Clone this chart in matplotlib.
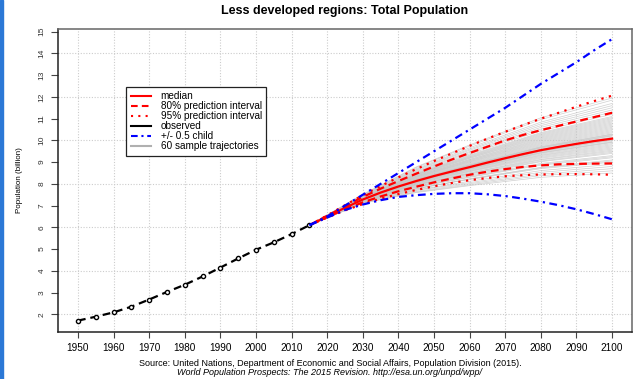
import matplotlib
matplotlib.use("Agg")
import matplotlib.pyplot as plt
from matplotlib.lines import Line2D
from matplotlib.patches import Rectangle

plt.rcParams['font.family'] = ['Liberation Sans', 'DejaVu Sans']

# observed population (billion)
obs_years = [1950, 1955, 1960, 1965, 1970, 1975, 1980, 1985, 1990, 1995, 2000, 2005, 2010, 2015]
obs_pop = [1.71, 1.89, 2.09, 2.35, 2.68, 3.03, 3.36, 3.74, 4.15, 4.57, 4.97, 5.31, 5.69, 6.10]

# projections
proj_years = [2015, 2020, 2025, 2030, 2035, 2040, 2045, 2050, 2055, 2060,
              2065, 2070, 2075, 2080, 2085, 2090, 2095, 2100]
median = [6.10, 6.50, 6.90, 7.28, 7.60, 7.88, 8.13, 8.36, 8.57, 8.77,
          8.98, 9.18, 9.37, 9.55, 9.70, 9.84, 9.97, 10.08]
upper80 = [6.10, 6.53, 6.97, 7.40, 7.78, 8.13, 8.47, 8.80, 9.12, 9.42,
           9.71, 10.00, 10.25, 10.47, 10.67, 10.87, 11.07, 11.27]
lower80 = [6.10, 6.47, 6.83, 7.15, 7.42, 7.66, 7.87, 8.07, 8.25, 8.42,
           8.56, 8.68, 8.78, 8.85, 8.90, 8.92, 8.93, 8.94]
upper95 = [6.10, 6.55, 7.02, 7.48, 7.90, 8.30, 8.68, 9.05, 9.40, 9.75,
           10.08, 10.40, 10.70, 11.00, 11.27, 11.55, 11.81, 12.06]
lower95 = [6.10, 6.45, 6.78, 7.07, 7.32, 7.53, 7.72, 7.89, 8.04, 8.17,
           8.27, 8.35, 8.40, 8.43, 8.45, 8.45, 8.44, 8.42]
high_child = [6.10, 6.50, 7.00, 7.50, 8.00, 8.50, 9.00, 9.50, 10.00, 10.50,
              11.00, 11.50, 12.05, 12.60, 13.10, 13.60, 14.15, 14.66]
low_child = [6.10, 6.45, 6.80, 7.05, 7.25, 7.40, 7.48, 7.54, 7.57, 7.57,
             7.52, 7.44, 7.32, 7.18, 7.02, 6.83, 6.61, 6.37]

# sample trajectories, values at these years
traj_years = [2015, 2030, 2045, 2060, 2080, 2100]
trajectories = [
    [6.10, 7.10, 7.60, 7.92, 8.30, 8.50], [6.10, 7.13, 7.65, 8.01, 8.45, 8.70],
    [6.10, 7.15, 7.70, 8.06, 8.53, 8.80], [6.10, 7.16, 7.72, 8.12, 8.61, 8.90],
    [6.10, 7.20, 7.80, 8.20, 8.70, 9.00], [6.10, 7.15, 7.76, 8.24, 8.76, 9.10],
    [6.10, 7.22, 7.84, 8.30, 8.86, 9.20], [6.10, 7.18, 7.85, 8.32, 8.90, 9.25],
    [6.10, 7.20, 7.88, 8.36, 8.94, 9.30], [6.10, 7.23, 7.90, 8.40, 9.02, 9.40],
    [6.10, 7.25, 7.95, 8.45, 9.05, 9.45], [6.10, 7.21, 7.93, 8.46, 9.10, 9.50],
    [6.10, 7.26, 7.98, 8.50, 9.13, 9.55], [6.10, 7.24, 7.96, 8.50, 9.18, 9.60],
    [6.10, 7.27, 8.00, 8.55, 9.22, 9.65], [6.10, 7.25, 8.02, 8.58, 9.26, 9.70],
    [6.10, 7.29, 8.04, 8.60, 9.30, 9.75], [6.10, 7.26, 8.05, 8.63, 9.33, 9.80],
    [6.10, 7.30, 8.08, 8.66, 9.37, 9.85], [6.10, 7.27, 8.07, 8.68, 9.41, 9.90],
    [6.10, 7.31, 8.10, 8.70, 9.43, 9.92], [6.10, 7.28, 8.11, 8.72, 9.45, 9.95],
    [6.10, 7.30, 8.12, 8.74, 9.49, 10.00], [6.10, 7.27, 8.13, 8.75, 9.50, 10.02],
    [6.10, 7.29, 8.14, 8.77, 9.52, 10.05], [6.10, 7.28, 8.13, 8.77, 9.55, 10.08],
    [6.10, 7.30, 8.15, 8.79, 9.56, 10.10], [6.10, 7.27, 8.14, 8.80, 9.58, 10.12],
    [6.10, 7.31, 8.16, 8.81, 9.60, 10.15], [6.10, 7.29, 8.17, 8.84, 9.64, 10.20],
    [6.10, 7.32, 8.18, 8.85, 9.66, 10.22], [6.10, 7.28, 8.19, 8.87, 9.68, 10.25],
    [6.10, 7.31, 8.21, 8.89, 9.72, 10.30], [6.10, 7.30, 8.22, 8.92, 9.76, 10.35],
    [6.10, 7.33, 8.24, 8.95, 9.80, 10.40], [6.10, 7.31, 8.26, 8.98, 9.84, 10.45],
    [6.10, 7.34, 8.28, 9.01, 9.88, 10.50], [6.10, 7.32, 8.30, 9.03, 9.92, 10.55],
    [6.10, 7.35, 8.31, 9.06, 9.96, 10.60], [6.10, 7.33, 8.33, 9.08, 10.00, 10.65],
    [6.10, 7.36, 8.35, 9.11, 10.04, 10.70], [6.10, 7.34, 8.36, 9.13, 10.08, 10.75],
    [6.10, 7.37, 8.38, 9.17, 10.12, 10.80], [6.10, 7.35, 8.40, 9.19, 10.16, 10.85],
    [6.10, 7.38, 8.42, 9.22, 10.20, 10.90], [6.10, 7.39, 8.45, 9.27, 10.28, 11.00],
    [6.10, 7.37, 8.46, 9.30, 10.32, 11.05], [6.10, 7.40, 8.49, 9.33, 10.36, 11.10],
    [6.10, 7.41, 8.52, 9.38, 10.44, 11.20], [6.10, 7.43, 8.56, 9.44, 10.52, 11.30],
    [6.10, 7.44, 8.59, 9.49, 10.60, 11.40], [6.10, 7.46, 8.63, 9.55, 10.68, 11.50],
    [6.10, 7.47, 8.66, 9.60, 10.76, 11.60], [6.10, 7.49, 8.70, 9.66, 10.84, 11.70],
    [6.10, 7.50, 8.75, 9.74, 10.96, 11.85], [6.10, 7.12, 7.62, 7.96, 8.38, 8.60],
    [6.10, 7.19, 7.78, 8.22, 8.74, 9.05], [6.10, 7.33, 8.20, 8.86, 9.70, 10.28],
    [6.10, 7.36, 8.43, 9.24, 10.24, 10.95], [6.10, 7.52, 8.78, 9.79, 11.04, 11.95],
]

xticks = list(range(1950, 2101, 10))
yticks = list(range(2, 16))
ygrid = list(range(2, 15, 2))

fig = plt.figure(figsize=(6.39, 3.79), dpi=100)
fig.patches.append(Rectangle((0, 0), 3 / 639, 1, transform=fig.transFigure,
                             color='#2b78d6', zorder=0))
ax = fig.add_axes([0.0908, 0.124, 0.8983, 0.7995])

for x in xticks:
    ax.axvline(x, color='#cccccc', lw=0.8, ls=(0, (1, 1.5)), zorder=0)
for y in ygrid:
    ax.axhline(y, color='#cccccc', lw=0.8, ls=(0, (1, 1.5)), zorder=0)

for tr in trajectories:
    ax.plot(traj_years, tr, color='#c4c4c4', lw=0.5, alpha=0.8, zorder=1)

lw = 1.6
ax.plot(proj_years, upper95, color='red', lw=lw, ls=(0, (1, 2.5)), zorder=3)
ax.plot(proj_years, lower95, color='red', lw=lw, ls=(0, (1, 2.5)), zorder=3)
ax.plot(proj_years, upper80, color='red', lw=lw, ls=(0, (3.5, 2.2)), zorder=3)
ax.plot(proj_years, lower80, color='red', lw=lw, ls=(0, (3.5, 2.2)), zorder=3)
ax.plot(proj_years, median, color='red', lw=lw, zorder=3)
ax.plot(obs_years, obs_pop, color='black', lw=1.6, ls=(0, (3.5, 2.2)), marker='o',
        ms=3, mfc='white', mec='black', mew=1, zorder=4)
ax.plot(proj_years, high_child, color='blue', lw=lw, ls=(0, (3.5, 2, 1, 2)), zorder=5)
ax.plot(proj_years, low_child, color='blue', lw=lw, ls=(0, (3.5, 2, 1, 2)), zorder=5)

ax.set_xlim(1944.4, 2105.6)
ax.set_ylim(1.186, 15.124)
ax.set_xticks(xticks)
ax.set_yticks(yticks)
ax.tick_params(axis='x', labelsize=7.2, length=4, width=0.8, color='#444444', pad=4)
ax.tick_params(axis='y', labelsize=6, length=5, width=0.8, color='#444444',
               labelrotation=90, labelcolor='#333333', pad=4)
for lab in ax.get_yticklabels():
    lab.set_verticalalignment('center')
for s in ax.spines.values():
    s.set_color('#666666')
    s.set_linewidth(1.1)
ax.spines['left'].set_color('#222222')
ax.spines['bottom'].set_color('#222222')

ax.set_ylabel('Population (billion)', fontsize=5.8, labelpad=11)
ax.set_title('Less developed regions: Total Population', fontsize=9,
             fontweight='bold', pad=11)

handles = [
    Line2D([], [], color='red', lw=1.5),
    Line2D([], [], color='red', lw=1.5, ls=(0, (3.2, 2))),
    Line2D([], [], color='red', lw=1.5, ls=(0, (1, 2.5))),
    Line2D([], [], color='black', lw=1.5),
    Line2D([], [], color='blue', lw=1.5, ls=(0, (3.2, 1.8, 1, 1.8))),
    Line2D([], [], color='#b0b0b0', lw=1.5),
]
labels = ['median', '80% prediction interval', '95% prediction interval',
          'observed', '+/- 0.5 child', '60 sample trajectories']
leg = ax.legend(handles, labels, loc='upper left', bbox_to_anchor=(0.1185, 0.8086),
                borderaxespad=0, fontsize=7.2, handlelength=2.0, labelspacing=0.0,
                fancybox=False, framealpha=1, edgecolor='#222222',
                borderpad=0.45, handletextpad=1.0)
leg.get_frame().set_linewidth(0.9)

fig.text(0.5164, 0.0396, 'Source: United Nations, Department of Economic and Social Affairs, '
         'Population Division (2015).', ha='center', va='center', fontsize=6.5)
fig.text(0.5164, 0.0177, 'World Population Prospects: The 2015 Revision. '
         'http://esa.un.org/unpd/wpp/', ha='center', va='center', fontsize=6.5,
         style='italic')

fig.savefig('out.png', dpi=100)
